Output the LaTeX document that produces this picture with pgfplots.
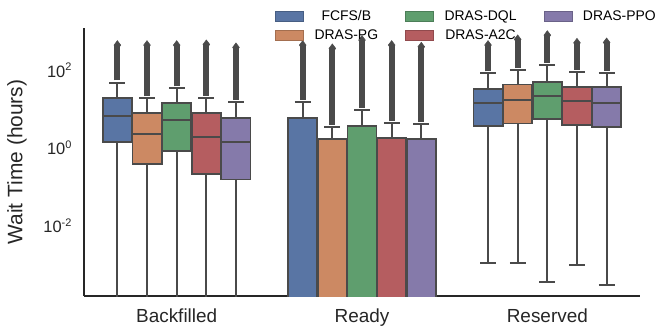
\documentclass[border=0pt]{standalone}
\usepackage{pgfplots}
\pgfplotsset{compat=1.18}
\usepgfplotslibrary{statistics}
\usepackage{fontspec}
\setmainfont{Liberation Sans}
\definecolor{cA}{HTML}{5975A4}
\definecolor{cB}{HTML}{CC8963}
\definecolor{cC}{HTML}{5F9E6E}
\definecolor{cD}{HTML}{B55D60}
\definecolor{cE}{HTML}{857AAA}
\definecolor{edge}{HTML}{4A4A4A}
\definecolor{spine}{HTML}{262626}
\newcommand{\mysup}[1]{\raisebox{6.5bp}{\fontsize{11}{12}\selectfont #1}}
\newcommand{\lent}[1]{\scalebox{1.4}{\normalsize #1}}
\pgfplotsset{
  bx/.style={boxplot/draw direction=y, draw=edge, line width=1.7bp, forget plot,
     boxplot/box extend=0.158, boxplot/whisker extend=0.085, solid,
     boxplot/every whisker/.style={draw=edge, line width=2bp},
     boxplot/every median/.style={draw=edge, line width=1.7bp},
     boxplot/every box/.style={draw=edge, line width=1.7bp}},
  out/.style={draw=edge, line width=6bp, mark=diamond*, mark indices={2},
     mark size=4.5bp, mark options={fill=edge, draw=edge, line width=0.5bp}, forget plot},
}
\begin{document}
\begin{tikzpicture}
\useasboundingbox (-84bp,-32bp) rectangle (584bp,296bp);
\begin{axis}[
  scale only axis, width=556bp, height=268bp,
  ymode=log, ymin=1.4e-4, ymax=1070,
  xmin=-0.5, xmax=2.5,
  axis x line*=bottom, axis y line*=left,
  axis line style={spine, line width=1.1bp},
  every outer x axis line/.append style={-}, every outer y axis line/.append style={-},
  major tick length=0pt, minor tick length=0pt,
  xtick={0,1,2}, xticklabels={Backfilled,Ready,Reserved},
  ytick={1e-2,1,1e2},
  yticklabels={10\mysup{-2},10\mysup{0},10\mysup{2}},
  yminorticks=false,
  x tick label style={font=\fontsize{19}{22}\selectfont, text=spine, yshift=-9bp},
  y tick label style={font=\fontsize{16.5}{18}\selectfont, text=spine, xshift=-9bp, yshift=-2bp},
  ylabel={Wait Time (hours)},
  ylabel shift=10bp,
  ylabel style={font=\fontsize{21}{24}\selectfont, text=spine},
  legend columns=3,
  legend style={at={(0.3435,1.075)}, anchor=north west, draw=none, fill=none,
    inner sep=0pt, nodes={text=black},
    /tikz/every even column/.append style={column sep=25bp},
    row sep=4bp},
  legend image code/.code={\draw[#1, line width=0.6bp] (0bp,-5bp) rectangle (28bp,5bp);
     \path[draw=none, fill=none] (37bp,0bp) circle (0.1bp);},
]
\addlegendimage{fill=cA, draw=cA!80!black}\addlegendentry{\lent{FCFS/B}}
\addlegendimage{fill=cC, draw=cC!80!black}\addlegendentry{\lent{DRAS-DQL}}
\addlegendimage{fill=cE, draw=cE!80!black}\addlegendentry{\lent{DRAS-PPO}}
\addlegendimage{fill=cB, draw=cB!80!black}\addlegendentry{\lent{DRAS-PG}}
\addlegendimage{fill=cD, draw=cD!80!black}\addlegendentry{\lent{DRAS-A2C}}

% ---------------- Backfilled ----------------
\addplot[bx, fill=cA, boxplot prepared={draw position=-0.32, lower whisker=1e-6, lower quartile=1.24, median=5.9, upper quartile=17.3, upper whisker=42}] coordinates {};
\addplot[bx, fill=cB, boxplot prepared={draw position=-0.16, lower whisker=1e-6, lower quartile=0.34, median=2.03, upper quartile=6.9, upper whisker=16.7}] coordinates {};
\addplot[bx, fill=cC, boxplot prepared={draw position=0, lower whisker=1e-6, lower quartile=0.73, median=4.56, upper quartile=12.9, upper whisker=30.2}] coordinates {};
\addplot[bx, fill=cD, boxplot prepared={draw position=0.16, lower whisker=1e-6, lower quartile=0.19, median=1.70, upper quartile=6.9, upper whisker=17.3}] coordinates {};
\addplot[bx, fill=cE, boxplot prepared={draw position=0.32, lower whisker=1e-6, lower quartile=0.137, median=1.24, upper quartile=5.3, upper whisker=13.7}] coordinates {};
\addplot[out] coordinates {(-0.32,48) (-0.32,389)};
\addplot[out] coordinates {(-0.16,19) (-0.16,389)};
\addplot[out] coordinates {(0,34) (0,389)};
\addplot[out] coordinates {(0.16,19.5) (0.16,405)};
\addplot[out] coordinates {(0.32,15.5) (0.32,340)};

% ---------------- Ready ----------------
\addplot[bx, fill=cA, boxplot prepared={draw position=0.68, lower whisker=1e-6, lower quartile=1e-6, median=1e-6, upper quartile=5.3, upper whisker=13.7}] coordinates {};
\addplot[bx, fill=cB, boxplot prepared={draw position=0.84, lower whisker=1e-6, lower quartile=1e-6, median=1e-6, upper quartile=1.49, upper whisker=3.1}] coordinates {};
\addplot[bx, fill=cC, boxplot prepared={draw position=1, lower whisker=1e-6, lower quartile=1e-6, median=1e-6, upper quartile=3.3, upper whisker=8.4}] coordinates {};
\addplot[bx, fill=cD, boxplot prepared={draw position=1.16, lower whisker=1e-6, lower quartile=1e-6, median=1e-6, upper quartile=1.57, upper whisker=3.8}] coordinates {};
\addplot[bx, fill=cE, boxplot prepared={draw position=1.32, lower whisker=1e-6, lower quartile=1e-6, median=1e-6, upper quartile=1.51, upper whisker=3.6}] coordinates {};
\addplot[out] coordinates {(0.68,15.5) (0.68,389)};
\addplot[out] coordinates {(0.84,3.5) (0.84,320)};
\addplot[out] coordinates {(1,9.5) (1,522)};
\addplot[out] coordinates {(1.16,4.3) (1.16,389)};
\addplot[out] coordinates {(1.32,4.1) (1.32,353)};

% ---------------- Reserved ----------------
\addplot[bx, fill=cA, boxplot prepared={draw position=1.68, lower whisker=0.00098, lower quartile=3.26, median=12.9, upper quartile=29, upper whisker=73}] coordinates {};
\addplot[bx, fill=cB, boxplot prepared={draw position=1.84, lower whisker=0.00098, lower quartile=3.8, median=15.1, upper quartile=38, upper whisker=89}] coordinates {};
\addplot[bx, fill=cC, boxplot prepared={draw position=2, lower whisker=0.00033, lower quartile=4.84, median=19.1, upper quartile=44.6, upper whisker=119}] coordinates {};
\addplot[bx, fill=cD, boxplot prepared={draw position=2.16, lower whisker=0.00089, lower quartile=3.5, median=14, upper quartile=33, upper whisker=80}] coordinates {};
\addplot[bx, fill=cE, boxplot prepared={draw position=2.32, lower whisker=0.00027, lower quartile=3.1, median=12.9, upper quartile=32, upper whisker=76}] coordinates {};
\addplot[out] coordinates {(1.68,82) (1.68,389)};
\addplot[out] coordinates {(1.84,100) (1.84,545)};
\addplot[out] coordinates {(2,134) (2,700)};
\addplot[out] coordinates {(2.16,90) (2.16,445)};
\addplot[out] coordinates {(2.32,86) (2.32,455)};
\end{axis}
\end{tikzpicture}
\end{document}
